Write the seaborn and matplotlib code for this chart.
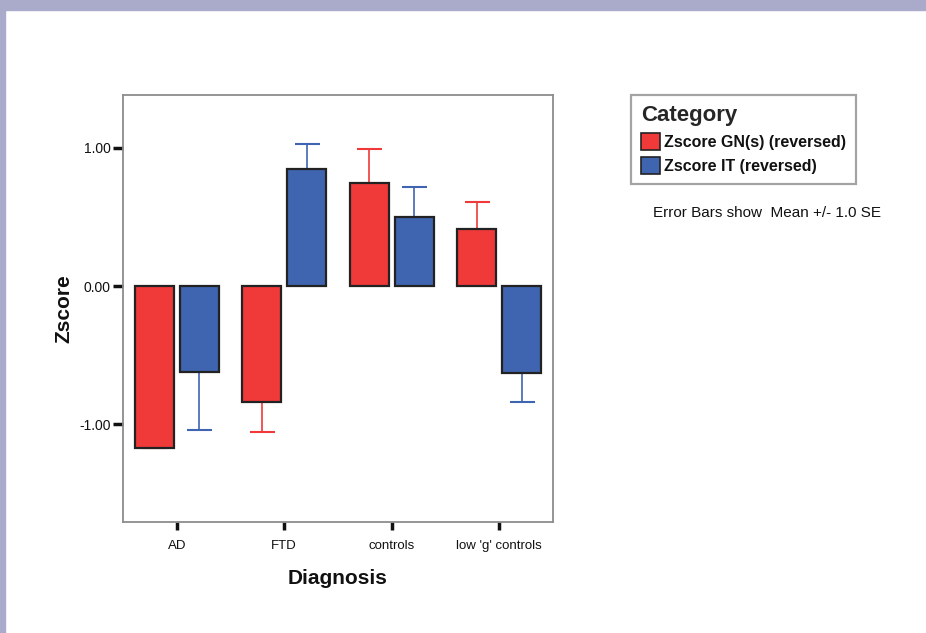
import numpy as np
import pandas as pd
import matplotlib
matplotlib.use("Agg")
import matplotlib.pyplot as plt
import matplotlib.patches as mpatches
import seaborn as sns

# Data
diagnosis = ["AD", "FTD", "controls", "low 'g' controls"]
series = ["Zscore GN(s) (reversed)", "Zscore IT (reversed)"]
gn_mean = [-1.17, -0.84, 0.75, 0.41]
it_mean = [-0.62, 0.85, 0.50, -0.63]
gn_se = [0.0, 0.22, 0.24, 0.20]
it_se = [0.42, 0.18, 0.22, 0.21]

red = "#f03a3a"
blue = "#4065b0"
frame = "#aaaacb"

df = pd.DataFrame({
    "Diagnosis": diagnosis * 2,
    "Category": [series[0]] * 4 + [series[1]] * 4,
    "Zscore": gn_mean + it_mean,
    "se": gn_se + it_se,
})

sns.set_style("white")
plt.rcParams["font.family"] = ["Liberation Sans", "DejaVu Sans"]

fig = plt.figure(figsize=(9.26, 6.33), dpi=100)
ax = fig.add_axes([0.1328, 0.175, 0.4644, 0.675])

sns.barplot(data=df, x="Diagnosis", y="Zscore", hue="Category",
            order=diagnosis, hue_order=series, saturation=1,
            palette=[red, blue], errorbar=None, width=0.84, gap=0.13,
            edgecolor="#222222", linewidth=1.6, ax=ax, legend=False, zorder=3)

# error bars (SE), centred on each bar
for i, s in enumerate(series):
    sub = df[df["Category"] == s].set_index("Diagnosis").loc[diagnosis]
    xs = np.arange(len(diagnosis)) + (i - 0.5) * 0.42
    ax.errorbar(xs, sub["Zscore"], yerr=sub["se"], fmt="none",
                ecolor=[red, blue][i], elinewidth=1.2, capsize=9,
                capthick=1.5, zorder=2)

ax.set_xlim(-0.5, 3.5)
ax.set_ylim(-1.71, 1.384)
ax.set_yticks([-1, 0, 1])
ax.set_yticklabels(["-1.00", "0.00", "1.00"])
ax.tick_params(axis="y", direction="out", length=7, width=2.5, color="#111111",
               labelsize=10, pad=2, left=True, labelcolor="#111111")
ax.tick_params(axis="x", direction="out", length=6, width=2.5, color="#111111",
               labelsize=9.5, pad=7, bottom=True, labelcolor="#111111")
for sp in ax.spines.values():
    sp.set_color("#8c8c8c")
    sp.set_linewidth(1.3)

ax.set_xlabel("Diagnosis", fontsize=15, fontweight="bold", labelpad=12,
              color="#111111")
ax.set_ylabel("Zscore", fontsize=15, fontweight="bold", labelpad=4,
              color="#111111")

handles = [mpatches.Patch(facecolor=red, edgecolor="#222222", linewidth=1.2),
           mpatches.Patch(facecolor=blue, edgecolor="#222222", linewidth=1.2)]
leg = fig.legend(handles, series, title="Category", loc="upper left",
                 bbox_to_anchor=(631 / 926, 1 - 95 / 633), frameon=True,
                 fancybox=False, edgecolor="#8c8c8c", fontsize=11.5,
                 handlelength=1.15, handleheight=1.3, handletextpad=0.25,
                 borderpad=0.65, labelspacing=0.4, borderaxespad=0)
leg.get_frame().set_linewidth(1.6)
leg._legend_box.align = "left"
leg.get_title().set_fontsize(16)
leg.get_title().set_fontweight("bold")
for t in leg.get_texts():
    t.set_fontweight("bold")
    t.set_color("#111111")

fig.text(767 / 926, 1 - 213 / 633, "Error Bars show  Mean +/- 1.0 SE",
         ha="center", va="center", fontsize=11, color="#111111")

# lavender frame at top and left
fig.patches.append(mpatches.Rectangle((0, 1 - 10 / 633), 1, 10 / 633,
                                      transform=fig.transFigure, color=frame, zorder=0))
fig.patches.append(mpatches.Rectangle((0, 0), 4.5 / 926, 1,
                                      transform=fig.transFigure, color=frame, zorder=0))

fig.savefig("out.png", dpi=100)
